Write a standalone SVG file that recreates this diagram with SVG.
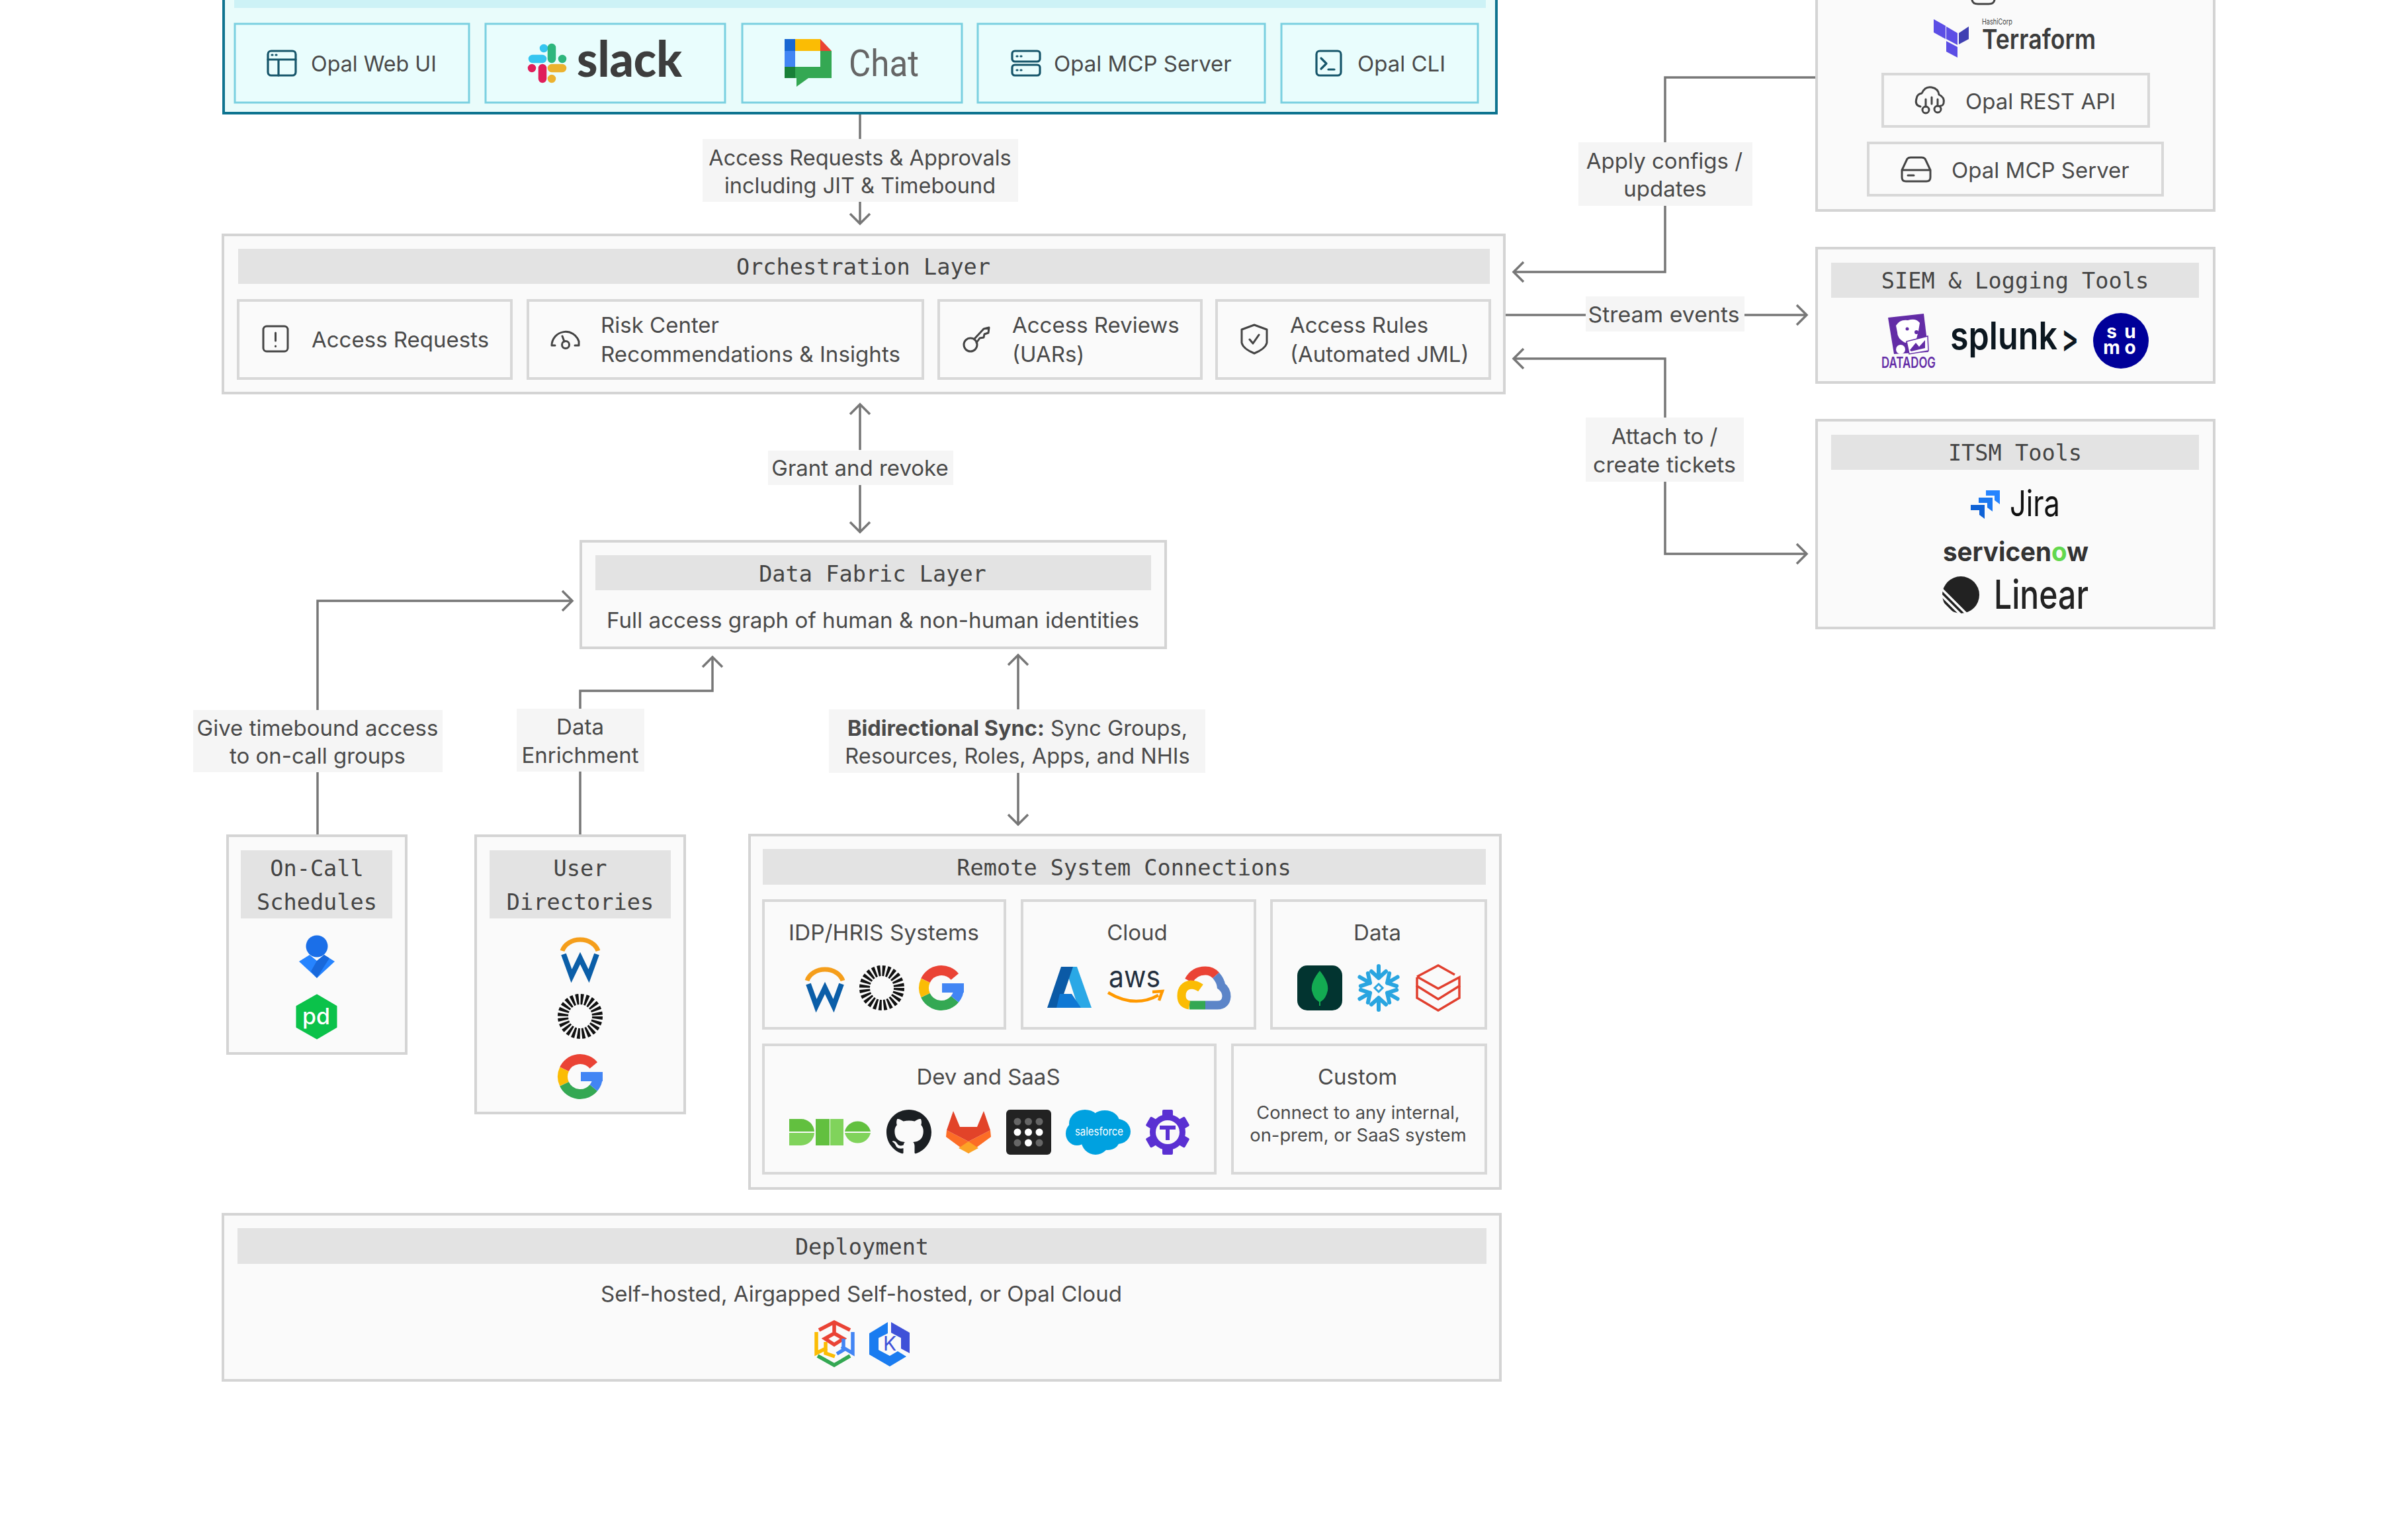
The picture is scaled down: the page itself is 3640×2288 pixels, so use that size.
<svg xmlns="http://www.w3.org/2000/svg" width="3640" height="2288" viewBox="0 0 3640 2288">
<style>
text{font-family:"Inter","Liberation Sans",sans-serif;font-size:33px;fill:#4a4a4a}
.c{text-anchor:middle}
.l{font-size:32.500px}
.m{font-family:"DejaVu Sans Mono","Liberation Mono",monospace;font-size:33.6px;text-anchor:middle;fill:#444}
.box{fill:#fafafa;stroke:#d4d4d4;stroke-width:4}
.sub{fill:#fafafa;stroke:#d8d8d8;stroke-width:4}
.band{fill:#e3e3e3}
.lab{fill:#f5f5f5}
.conn{fill:none;stroke:#777;stroke-width:3.5}
.ico{fill:none;stroke:#444;stroke-width:3;stroke-linecap:round;stroke-linejoin:round}
.tico{fill:none;stroke:#17566b;stroke-width:3.2;stroke-linecap:round;stroke-linejoin:round}
.tb{fill:#e9fdfd;stroke:#7ad0e0;stroke-width:3}
</style>
<defs>
<marker id="arr" markerUnits="userSpaceOnUse" markerWidth="40" markerHeight="40" refX="30" refY="20" orient="auto" overflow="visible">
<path d="M15,5 L30,20 L15,35" fill="none" stroke="#777" stroke-width="3.5"/>
</marker>
<g id="workday">
<path d="M-27,-9 A28 23 0 0 1 27,-9" fill="none" stroke="#f59e1b" stroke-width="7"/>
<path d="M-25,-4 L-13,29 L0,2 L13,29 L25,-4" fill="none" stroke="#0b5ea8" stroke-width="8"/>
</g>
<g id="sun"><circle r="26" fill="none" stroke="#111" stroke-width="16" stroke-dasharray="4 2.800"/></g>
<g id="gg" fill="none" stroke-width="15">
<path d="M20.3,-17 A26.5 26.5 0 0 0 -24,-11.2" stroke="#ea4335"/>
<path d="M-24,-11.2 A26.5 26.5 0 0 0 -24,11.2" stroke="#fbbc05"/>
<path d="M-24,11.2 A26.5 26.5 0 0 0 20.3,17" stroke="#34a853"/>
<path d="M20.3,17 A26.5 26.5 0 0 0 26.5,0" stroke="#4285f4"/>
<rect x="1" y="-7" width="33" height="14" fill="#4285f4" stroke="none"/>
</g>
<path id="arm" d="M0,-33 V-15 M-11,-25 L0,-15 M11,-25 L0,-15" fill="none" stroke="#29a5e0" stroke-width="6" stroke-linecap="round"/>
</defs>
<rect width="3640" height="2288" fill="#fff"/>

<g id="connectors">
<path class="conn" d="M1300,172 V210"/><path class="conn" d="M1300,300 V338" marker-end="url(#arr)"/>
<path class="conn" d="M1300,680 V611" marker-end="url(#arr)"/><path class="conn" d="M1300,733 V804" marker-end="url(#arr)"/>
<path class="conn" d="M1539,1072 V990" marker-end="url(#arr)"/><path class="conn" d="M1539,1168 V1246" marker-end="url(#arr)"/>
<path class="conn" d="M480,1261 V1167"/><path class="conn" d="M480,1073 V908 H865" marker-end="url(#arr)"/>
<path class="conn" d="M877,1261 V1166"/><path class="conn" d="M877,1071 V1044 H1077 V993" marker-end="url(#arr)"/>
<path class="conn" d="M2746,117 H2517 V215"/><path class="conn" d="M2517,311 V411 H2288" marker-end="url(#arr)"/>
<path class="conn" d="M2274,476 H2397"/><path class="conn" d="M2637,476 H2731" marker-end="url(#arr)"/>
<path class="conn" d="M2517,631 V542 H2288" marker-end="url(#arr)"/><path class="conn" d="M2517,728 V837 H2731" marker-end="url(#arr)"/>
<rect class="lab" x="1062" y="210" width="477" height="95"/>
<text class="c l" x="1300" y="250">Access Requests &amp; Approvals</text>
<text class="c l" x="1300" y="292">including JIT &amp; Timebound</text>
<rect class="lab" x="1161" y="681" width="280" height="52"/>
<text class="c" x="1300" y="719">Grant and revoke</text>
<rect class="lab" x="1253" y="1072" width="569" height="96"/>
<text class="c l" x="1538" y="1112"><tspan font-weight="700">Bidirectional Sync:</tspan> Sync Groups,</text>
<text class="c l" x="1538" y="1154">Resources, Roles, Apps, and NHIs</text>
<rect class="lab" x="292" y="1073" width="377" height="94"/>
<text class="c" x="480" y="1112">Give timebound access</text>
<text class="c" x="480" y="1154">to on-call groups</text>
<rect class="lab" x="781" y="1071" width="193" height="95"/>
<text class="c" x="877" y="1110">Data</text>
<text class="c" x="877" y="1153">Enrichment</text>
<rect class="lab" x="2386" y="215" width="263" height="96"/>
<text class="c" x="2516" y="255">Apply configs /</text>
<text class="c" x="2517" y="297">updates</text>
<rect class="lab" x="2397" y="448" width="240" height="53"/>
<text class="c" x="2515" y="487" textLength="229" lengthAdjust="spacingAndGlyphs">Stream events</text>
<rect class="lab" x="2397" y="631" width="239" height="97"/>
<text class="c" x="2516" y="671">Attach to /</text>
<text class="c" x="2516" y="714" textLength="216" lengthAdjust="spacingAndGlyphs">create tickets</text>
</g>

<g id="access-surfaces">
<rect x="338" y="-60" width="1924" height="231" fill="#e9fcfb" stroke="#0e7490" stroke-width="4"/>
<rect x="354" y="-40" width="1892" height="52" fill="#cdf2f6"/>
<rect class="tb" x="355" y="36" width="354" height="119"/>
<rect class="tb" x="734" y="36" width="362" height="119"/>
<rect class="tb" x="1122" y="36" width="332" height="119"/>
<rect class="tb" x="1478" y="36" width="434" height="119"/>
<rect class="tb" x="1937" y="36" width="297" height="119"/>
<g class="tico"><rect x="405" y="77" width="42" height="37" rx="5"/><path d="M405,90 H447 M421,90 V114"/><path d="M411,83 h1 M417,83 h1"/></g>
<text x="470" y="108" textLength="190" lengthAdjust="spacingAndGlyphs">Opal Web UI</text>
<g stroke-linecap="round" stroke-width="12.5" fill="none">
<path d="M805,89 H820 M822,73 h0" stroke="#36c5f0"/>
<path d="M834,72 V89 M850,89 h0" stroke="#2eb67d"/>
<path d="M834,103 H850 M834,119 h0" stroke="#ecb22e"/>
<path d="M820,103 V119 M804,103 h0" stroke="#e01e5a"/>
</g>
<text x="872" y="116" style="font-family:Lato,sans-serif;font-size:74px;font-weight:900;fill:#3d3d3d" textLength="159" lengthAdjust="spacingAndGlyphs">slack</text>
<path d="M1186,77 V59 H1202 V77Z" fill="#1967d2"/><rect x="1186" y="77" width="16" height="24" fill="#4285f4"/>
<rect x="1202" y="59" width="38" height="18" fill="#fbbc04"/><path d="M1240,59 L1257,77 H1240Z" fill="#ea4335"/>
<rect x="1240" y="77" width="17" height="41" fill="#34a853"/><path d="M1202,101 H1240 V118 H1222 L1204,131 V118 H1202Z" fill="#34a853"/>
<rect x="1186" y="101" width="16" height="17" fill="#188038"/>
<text x="1283" y="115" style="font-family:Roboto,sans-serif;font-size:56px;fill:#666" textLength="106" lengthAdjust="spacingAndGlyphs">Chat</text>
<g class="tico"><rect x="1530" y="77" width="42" height="16" rx="4"/><rect x="1530" y="98" width="42" height="16" rx="4"/><path d="M1537,85 h1 M1543,85 h1 M1537,106 h1 M1543,106 h1"/></g>
<text x="1593" y="108">Opal MCP Server</text>
<g class="tico"><rect x="1990" y="77" width="37" height="37" rx="5"/><path d="M1997,88 L2005,96 L1997,104 M2008,105 H2017"/></g>
<text x="2052" y="108" textLength="133" lengthAdjust="spacingAndGlyphs">Opal CLI</text>
</g>

<g id="orchestration-layer">
<rect class="box" x="337" y="355" width="1937" height="239"/>
<rect class="band" x="360" y="376" width="1892" height="53"/>
<text class="m" x="1305" y="415">Orchestration Layer</text>
<rect class="sub" x="360" y="454" width="413" height="118"/>
<rect class="sub" x="798" y="454" width="597" height="118"/>
<rect class="sub" x="1419" y="454" width="397" height="118"/>
<rect class="sub" x="1839" y="454" width="413" height="118"/>
<g class="ico"><rect x="398" y="493" width="37" height="38" rx="5"/><path d="M416.500,503 V515 M416.500,523 v.5"/></g>
<text x="471" y="525">Access Requests</text>
<g class="ico"><path d="M839,522 H834 A21 21 0 0 1 875,516 L875,522 H869"/><circle cx="855" cy="521" r="5.500"/><path d="M853,516 L850,508"/></g>
<text x="908" y="503">Risk Center</text>
<text x="908" y="547" textLength="453" lengthAdjust="spacingAndGlyphs">Recommendations &amp; Insights</text>
<g class="ico"><circle cx="1467" cy="521" r="10"/><path d="M1473,512 L1487,497 L1495,495 L1494,503 L1488,505 L1487,510 L1481,511 L1476,518"/></g>
<text x="1530" y="503">Access Reviews</text>
<text x="1530" y="547">(UARs)</text>
<g class="ico"><path d="M1896,491 L1915,498 V518 Q1913,527 1896,534 Q1879,527 1877,518 V498Z"/><path d="M1889,513 L1894,519 L1903,506"/></g>
<text x="1950" y="503">Access Rules</text>
<text x="1950" y="547">(Automated JML)</text>
</g>

<g id="data-fabric-layer">
<rect class="box" x="878" y="818" width="884" height="161"/>
<rect class="band" x="900" y="839" width="840" height="53"/>
<text class="m" x="1319" y="879">Data Fabric Layer</text>
<text x="917" y="949" textLength="805" lengthAdjust="spacingAndGlyphs">Full access graph of human &amp; non-human identities</text>
</g>

<g id="on-call-schedules">
<rect class="box" x="344" y="1263" width="270" height="329"/>
<rect class="band" x="364" y="1285" width="229" height="103"/>
<text class="m" x="479" y="1324">On-Call</text>
<text class="m" x="479" y="1375">Schedules</text>
<circle cx="479" cy="1430" r="16.500" fill="#1b6fe8"/>
<path d="M452,1453 L468,1443 L479,1452 L490,1443 L506,1453 L479,1478Z" fill="#2684ff"/>
<path d="M479,1452 L490,1443 L498,1448 L479,1478 L470,1468Z" fill="#1868db"/>
<path d="M479,1504 L508,1521 V1552 L479,1569 L449,1552 V1521Z" fill="#0bc24a" stroke="#0bc24a" stroke-width="3" stroke-linejoin="round"/>
<text class="c" x="478" y="1548" style="font-size:34px;font-weight:500;fill:#fff">pd</text>
</g>

<g id="user-directories">
<rect class="box" x="719" y="1263" width="316" height="419"/>
<rect class="band" x="740" y="1285" width="274" height="103"/>
<text class="m" x="877" y="1324">User</text>
<text class="m" x="877" y="1375">Directories</text>
<use href="#workday" x="877" y="1446"/>
<use href="#sun" x="877" y="1536"/>
<use href="#gg" x="877" y="1627"/>
</g>

<g id="remote-system-connections">
<rect class="box" x="1133" y="1262" width="1135" height="534"/>
<rect class="band" x="1153" y="1283" width="1093" height="54"/>
<text class="m" x="1699" y="1323">Remote System Connections</text>
<rect class="sub" x="1154" y="1361" width="365" height="193"/>
<rect class="sub" x="1545" y="1361" width="352" height="193"/>
<rect class="sub" x="1922" y="1361" width="324" height="193"/>
<rect class="sub" x="1154" y="1579" width="683" height="194"/>
<rect class="sub" x="1863" y="1579" width="383" height="194"/>
<text class="c" x="1336" y="1421" textLength="288" lengthAdjust="spacingAndGlyphs">IDP/HRIS Systems</text>
<text class="c" x="1719" y="1421">Cloud</text>
<text class="c" x="2082" y="1421">Data</text>
<text class="c" x="1494" y="1639">Dev and SaaS</text>
<text class="c" x="2052" y="1639">Custom</text>
<text class="c" x="2053" y="1691" style="font-size:27.300px">Connect to any internal,</text>
<text class="c" x="2053" y="1725" style="font-size:27.300px">on-prem, or SaaS system</text>
<use href="#workday" x="1247" y="1491"/>
<use href="#sun" x="1333" y="1493"/>
<use href="#gg" x="1423" y="1493"/>
<path d="M1610,1461 H1628 L1650,1523 H1630Z" fill="#2aa8e6"/>
<path d="M1604,1461 H1622 L1601,1523 H1583Z" fill="#0b5aa6"/>
<path d="M1602,1502 H1620 L1634,1523 H1597Z" fill="#0f78d4"/>
<text x="1676" y="1492" style="font-size:46px;fill:#232f3e" textLength="78" lengthAdjust="spacingAndGlyphs">aws</text>
<path d="M1675,1500 Q1715,1524 1751,1504 M1742,1499 L1757,1498 L1752,1512" fill="none" stroke="#f90" stroke-width="4.500"/>
<g fill="none" stroke-width="13"><path d="M1797,1482 Q1805,1467 1822,1467 Q1832,1467 1838,1474" stroke="#ea4335"/>
<path d="M1838,1474 Q1845,1482 1846,1490 Q1854,1496 1854,1506 Q1853,1519 1840,1519 H1822" stroke="#5c85c8"/>
<path d="M1822,1519 H1798" stroke="#34a853"/>
<path d="M1798,1519 Q1786,1517 1786,1505 Q1786,1490 1800,1488 Q1808,1488 1815,1493" stroke="#fbbc04"/></g>
<rect x="1961" y="1459" width="68" height="68" rx="15" fill="#023430"/>
<path d="M1995,1467 Q2009,1484 2007,1497 Q2004,1510 1996,1514 V1520 H1994 V1514 Q1986,1510 1983,1497 Q1981,1484 1995,1467Z" fill="#13aa52"/>
<g transform="translate(2084,1493)"><use href="#arm"/><use href="#arm" transform="rotate(60)"/><use href="#arm" transform="rotate(120)"/><use href="#arm" transform="rotate(180)"/><use href="#arm" transform="rotate(240)"/><use href="#arm" transform="rotate(300)"/><path d="M0,-6 L6,0 L0,6 L-6,0Z" fill="none" stroke="#29a5e0" stroke-width="3"/></g>
<g fill="none" stroke="#e1402f" stroke-width="3.500"><path d="M2142,1476 L2174,1459 L2199,1473 M2142,1476 L2174,1494 L2206,1477 V1490 L2174,1510 L2142,1490 V1477"/><path d="M2142,1490 V1508 L2174,1527 L2206,1508 V1490"/></g>
<g fill="#62c03f"><path d="M1193,1691 H1211 A20 20 0 0 1 1231,1710 H1193Z"/><path d="M1233,1691 H1254 V1731 H1233Z"/><path d="M1277,1710 A20 20 0 0 1 1316,1710Z"/></g>
<g fill="#80d35b"><path d="M1193,1712 H1231 A20 20 0 0 1 1211,1731 H1193Z"/><path d="M1255,1691 H1275 V1731 H1255Z"/><path d="M1277,1712 A20 20 0 0 0 1316,1712Z"/></g>
<path transform="translate(1340,1677) scale(4.250)" fill="#1b1f23" d="M8 0C3.58 0 0 3.58 0 8c0 3.54 2.29 6.53 5.47 7.59.4.07.55-.17.55-.38 0-.19-.01-.82-.01-1.49-2.01.37-2.53-.49-2.69-.94-.09-.23-.48-.94-.82-1.13-.28-.15-.68-.52-.01-.53.63-.01 1.08.58 1.23.82.72 1.21 1.87.87 2.33.66.07-.52.28-.87.51-1.07-1.78-.2-3.64-.89-3.64-3.95 0-.87.31-1.59.82-2.15-.08-.2-.36-1.02.08-2.12 0 0 .67-.21 2.2.82.64-.18 1.32-.27 2-.27.68 0 1.36.09 2 .27 1.53-1.04 2.2-.82 2.2-.82.44 1.1.16 1.92.08 2.12.51.56.82 1.27.82 2.15 0 3.07-1.87 3.75-3.65 3.95.29.25.54.73.54 1.48 0 1.07-.01 1.93-.01 2.2 0 .21.15.46.55.38A8.013 8.013 0 0016 8c0-4.42-3.58-8-8-8z"/>
<path d="M1431,1708 L1464,1725 L1497,1708 L1498,1718 L1464,1743 L1430,1718Z" fill="#fc6d26"/>
<path d="M1441,1679 L1451,1703 H1477 L1487,1679 L1497,1708 L1464,1725 L1431,1708Z" fill="#e24329"/>
<path d="M1449,1735 L1464,1725 L1479,1735 L1464,1743Z" fill="#fca326"/>
<rect x="1521" y="1677" width="68" height="68" rx="6" fill="#222"/>
<g fill="#666"><circle cx="1538" cy="1695" r="5.500"/><circle cx="1554.500" cy="1695" r="5.500"/><circle cx="1571" cy="1695" r="5.500"/><circle cx="1538" cy="1727" r="5.500"/><circle cx="1571" cy="1727" r="5.500"/></g>
<g fill="#fff"><circle cx="1538" cy="1711" r="5.500"/><circle cx="1554.500" cy="1711" r="5.500"/><circle cx="1571" cy="1711" r="5.500"/><circle cx="1554.500" cy="1727" r="5.500"/></g>
<g fill="#00a1e0"><ellipse cx="1640" cy="1698" rx="24" ry="21"/><ellipse cx="1670" cy="1695" rx="22" ry="17"/><ellipse cx="1689" cy="1710" rx="20" ry="19"/><ellipse cx="1656" cy="1722" rx="22" ry="23"/><ellipse cx="1628" cy="1713" rx="17" ry="18"/><ellipse cx="1674" cy="1724" rx="18" ry="14"/></g>
<text x="1625" y="1716" style="font-size:17px;fill:#fff" textLength="73" lengthAdjust="spacingAndGlyphs">salesforce</text>
<g transform="translate(1765,1711)" fill="#5a30d2"><rect x="-8" y="-34" width="16" height="68" rx="2"/><rect x="-8" y="-34" width="16" height="68" rx="2" transform="rotate(60)"/><rect x="-8" y="-34" width="16" height="68" rx="2" transform="rotate(120)"/><circle r="27"/><circle r="18" fill="#fafafa"/><path d="M-12,-10 H12 V-4 H3 V12 H-3 V-4 H-12Z"/></g>
</g>

<g id="deployment">
<rect class="box" x="337" y="1835" width="1931" height="251"/>
<rect class="band" x="359" y="1856" width="1888" height="54"/>
<text class="m" x="1303" y="1896">Deployment</text>
<text class="c" x="1302" y="1967" textLength="788" lengthAdjust="spacingAndGlyphs">Self-hosted, Airgapped Self-hosted, or Opal Cloud</text>
<g fill="none" stroke-width="5.500">
<path d="M1238,2010 L1261,1998 L1285,2010 M1261,1998 V2013 M1247,2023 L1261,2015 L1275,2023 L1261,2032Z" stroke="#ea4335"/>
<path d="M1289,2013 V2045 L1272,2035 M1275,2023 V2040 L1265,2046" stroke="#4285f4"/>
<path d="M1234,2013 V2045 L1250,2037 M1248,2028 V2045 L1262,2050" stroke="#fbbc04"/>
<path d="M1236,2049 L1261,2063 L1285,2049" stroke="#34a853"/>
</g>
<path d="M1342,1998 L1314,2015 V2047 L1345,2065 L1370,2050 L1357,2042 L1345,2049 L1328,2040 V2022 L1342,2015Z" fill="#1a7cf0"/>
<path d="M1347,1998 L1375,2014 V2045 L1362,2038 V2022 L1347,2014Z" fill="#3f51d8"/>
<text class="c" x="1345" y="2041" style="font-size:30px;fill:#3f51d8">K</text>
</g>

<g id="config-tools">
<rect class="box" x="2746" y="-60" width="601" height="378"/>
<path d="M2981,0 Q2982,6 2990,6 H3006 Q3014,6 3015,0" class="ico"/>
<polygon points="2923,29 2941,39 2941,59 2923,49" fill="#5c4ee5"/>
<polygon points="2942,40 2959,50 2959,68 2942,59" fill="#5c4ee5"/>
<polygon points="2961,50 2976,40 2976,59 2961,67" fill="#4040b2"/>
<polygon points="2942,62 2959,71 2959,87 2942,78" fill="#5c4ee5"/>
<text x="2996" y="37" style="font-size:12px;fill:#444" textLength="46" lengthAdjust="spacingAndGlyphs">HashiCorp</text>
<text x="2996" y="74" style="font-size:41px;font-weight:600;fill:#3c3c3c" textLength="172" lengthAdjust="spacingAndGlyphs">Terraform</text>
<rect class="sub" x="2846" y="112" width="402" height="79"/>
<g class="ico"><path d="M2903,161 Q2894,159 2897,149 Q2898,142 2905,141 Q2910,130 2920,132 Q2930,134 2931,143 Q2940,147 2938,156 Q2937,160 2933,160"/><circle cx="2911" cy="166" r="5"/><circle cx="2929" cy="165" r="5"/><path d="M2911,161 V150 M2929,160 V150 M2920,157 V147"/></g>
<text x="2971" y="165">Opal REST API</text>
<rect class="sub" x="2824" y="216" width="445" height="79"/>
<g class="ico"><path d="M2875,257 L2883,240 Q2885,238 2888,238 H2905 Q2908,238 2910,240 L2918,257 V268 Q2918,274 2912,274 H2881 Q2875,274 2875,268Z M2875,257 H2918"/><path d="M2884,265 H2893"/></g>
<text x="2950" y="269">Opal MCP Server</text>
</g>

<g id="siem-logging-tools">
<rect class="box" x="2746" y="375" width="601" height="203"/>
<rect class="band" x="2768" y="397" width="556" height="53"/>
<text class="m" x="3046" y="436">SIEM &amp; Logging Tools</text>
<path d="M2854,480 L2908,474 L2915,532 L2863,535Z" fill="#632ca6"/>
<path d="M2866,492 Q2872,482 2884,484 Q2896,480 2902,488 L2900,500 L2897,512 L2880,518 Q2868,512 2868,502Z" fill="#fff"/>
<circle cx="2883" cy="497" r="2.500" fill="#632ca6"/><circle cx="2897" cy="502" r="3" fill="#632ca6"/>
<path d="M2882,516 L2914,508 L2915,530 L2886,535Z" fill="#fff" stroke="#632ca6" stroke-width="1.500"/>
<path d="M2887,529 L2896,518 L2901,524 L2910,514 V526 L2889,531Z" fill="#632ca6"/>
<circle cx="2873" cy="528" r="7" fill="#fff"/>
<text class="c" x="2885" y="556" style="font-size:23px;font-weight:600;fill:#632ca6" textLength="82" lengthAdjust="spacingAndGlyphs">DATADOG</text>
<text x="2948" y="528" style="font-size:58px;font-weight:600;fill:#0c1720" textLength="162" lengthAdjust="spacingAndGlyphs">splunk</text>
<text x="3116" y="532" style="font-size:58px;font-weight:600;fill:#0c1720" textLength="26" lengthAdjust="spacingAndGlyphs">&gt;</text>
<circle cx="3206" cy="515" r="42" fill="#000099"/>
<text class="c" x="3192" y="511" style="font-size:28px;font-weight:700;fill:#fff">s</text><text class="c" x="3220" y="511" style="font-size:28px;font-weight:700;fill:#fff">u</text><text class="c" x="3192" y="535" style="font-size:28px;font-weight:700;fill:#fff">m</text><text class="c" x="3220" y="535" style="font-size:28px;font-weight:700;fill:#fff">o</text>
</g>

<g id="itsm-tools">
<rect class="box" x="2746" y="635" width="601" height="314"/>
<rect class="band" x="2768" y="657" width="556" height="53"/>
<text class="m" x="3046" y="696">ITSM Tools</text>
<polygon points="3002,741 3023,741 3023,762 3015,756 3015,749 3002,749" fill="#2684ff"/>
<polygon points="2991,752 3012,752 3012,773 3004,767 3004,760 2991,760" fill="#1c78f0"/>
<polygon points="2979,763 3000,763 3000,784 2992,778 2992,771 2979,771" fill="#0f62d6"/>
<text x="3038" y="780" style="font-size:54px;fill:#111" textLength="76" lengthAdjust="spacingAndGlyphs">Jira</text>
<text x="2937" y="848" style="font-size:40px;font-weight:700;fill:#333" textLength="220" lengthAdjust="spacingAndGlyphs">servicen<tspan style="fill:#62d84e">o</tspan>w</text>
<circle cx="2964" cy="899" r="28" fill="#222"/>
<path d="M2930,885 L2978,933 M2930,895 L2968,933 M2930,905 L2958,933" stroke="#fafafa" stroke-width="3.500"/>
<text x="3014" y="920" style="font-size:60px;font-weight:500;fill:#222" textLength="143" lengthAdjust="spacingAndGlyphs">Linear</text>
</g>
</svg>
